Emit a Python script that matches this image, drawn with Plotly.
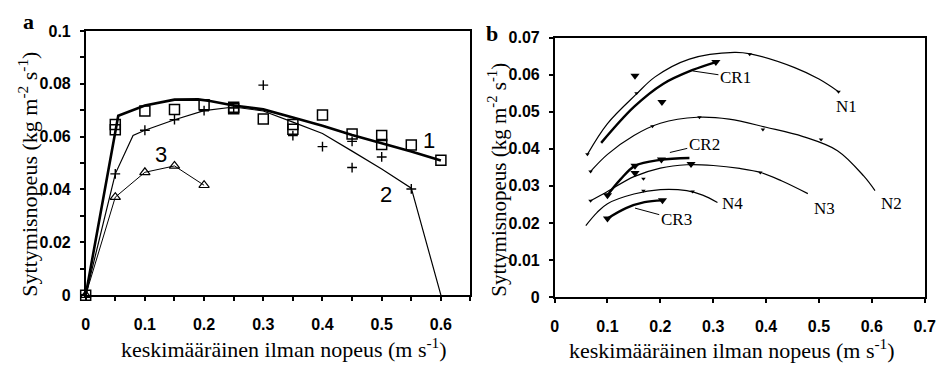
import plotly.graph_objects as go

W, H = 947, 370

# ---------------- Panel a data ----------------
sq_x = [0, 0.05, 0.05, 0.10, 0.15, 0.20, 0.25, 0.25, 0.30, 0.35, 0.35, 0.40, 0.45, 0.50, 0.50, 0.55, 0.60]
sq_y = [0, 0.0646, 0.0626, 0.0697, 0.0703, 0.0721, 0.0711, 0.0705, 0.0667, 0.0646, 0.0628, 0.0682, 0.0610, 0.0604, 0.0570, 0.0568, 0.0511]

fit1_x = [0, 0.055, 0.10, 0.15, 0.19, 0.21, 0.25, 0.30, 0.35, 0.40, 0.45, 0.50, 0.55, 0.60]
fit1_y = [0, 0.0679, 0.0718, 0.0740, 0.0741, 0.0735, 0.0718, 0.0703, 0.0672, 0.0641, 0.0606, 0.0575, 0.0544, 0.0510]

plus_x = [0.05, 0.10, 0.15, 0.20, 0.25, 0.30, 0.35, 0.40, 0.45, 0.45, 0.50, 0.55]
plus_y = [0.0459, 0.0624, 0.0664, 0.0698, 0.0708, 0.0795, 0.0604, 0.0562, 0.0582, 0.0483, 0.0523, 0.0402]

fit2_x = [0, 0.05, 0.08, 0.10, 0.15, 0.20, 0.25, 0.30, 0.35, 0.40, 0.45, 0.50, 0.55, 0.60]
fit2_y = [0, 0.0459, 0.0604, 0.0624, 0.0664, 0.0698, 0.0712, 0.0697, 0.0655, 0.0612, 0.0545, 0.0477, 0.0405, 0.0]

tri_x = [0, 0.05, 0.10, 0.15, 0.20]
tri_y = [0, 0.0371, 0.0465, 0.0489, 0.0416]

a_labels = ["1", "2", "3"]
a_label_x = [0.58, 0.508, 0.127]
a_label_y = [0.0586, 0.0380, 0.0531]

# ---------------- Panel b data ----------------
n1_x = [0.062, 0.10, 0.155, 0.19, 0.255, 0.34, 0.37, 0.454, 0.50, 0.537]
n1_y = [0.0385, 0.0468, 0.0548, 0.0594, 0.0642, 0.0660, 0.0656, 0.0619, 0.0588, 0.0554]
n1_mx = [0.062, 0.155, 0.369, 0.537]
n1_my = [0.0385, 0.0550, 0.0655, 0.0554]

n2_x = [0.068, 0.10, 0.15, 0.20, 0.27, 0.33, 0.40, 0.47, 0.535, 0.585, 0.606]
n2_y = [0.0339, 0.0385, 0.0436, 0.0469, 0.0485, 0.0480, 0.0458, 0.0433, 0.0395, 0.0326, 0.0287]
n2_mx = [0.068, 0.185, 0.274, 0.394, 0.504]
n2_my = [0.0339, 0.0461, 0.0485, 0.0452, 0.0425]

n3_x = [0.068, 0.10, 0.15, 0.20, 0.25, 0.30, 0.35, 0.39, 0.43, 0.479]
n3_y = [0.0260, 0.0285, 0.0325, 0.0348, 0.0357, 0.0355, 0.0347, 0.0336, 0.0313, 0.0279]
n3_mx = [0.068, 0.168, 0.389]
n3_my = [0.0260, 0.0319, 0.0336]

n4_x = [0.059, 0.08, 0.10, 0.15, 0.20, 0.25, 0.28, 0.308]
n4_y = [0.0193, 0.0228, 0.0252, 0.0278, 0.0290, 0.0287, 0.0275, 0.0255]
n4_mx = [0.168, 0.261]
n4_my = [0.0287, 0.0285]

cr1_x = [0.088, 0.15, 0.205, 0.26, 0.305]
cr1_y = [0.0416, 0.0513, 0.0575, 0.0612, 0.0634]
cr1_mx = [0.152, 0.203, 0.305]
cr1_my = [0.0597, 0.0526, 0.0634]

cr2_x = [0.10, 0.125, 0.152, 0.20, 0.255]
cr2_y = [0.0275, 0.0318, 0.0354, 0.0370, 0.0375]
cr2_mx = [0.10, 0.152, 0.152, 0.202, 0.258]
cr2_my = [0.0275, 0.0354, 0.0335, 0.0371, 0.0359]

cr3_x = [0.10, 0.135, 0.17, 0.204]
cr3_y = [0.0212, 0.0240, 0.0256, 0.0261]
cr3_mx = [0.10, 0.204]
cr3_my = [0.0212, 0.0261]

b_labels = ["CR1", "N1", "CR2", "N2", "N3", "N4", "CR3"]
b_label_x = [0.342, 0.553, 0.283, 0.637, 0.51, 0.336, 0.230]
b_label_y = [0.0593, 0.0515, 0.0412, 0.0253, 0.0240, 0.0253, 0.0210]
# leader lines: point on curve (None = no leader)
b_lead_x = [0.261, None, 0.218, None, None, None, 0.152]
b_lead_y = [0.0610, None, 0.0390, None, None, None, 0.0240]

fig = go.Figure()

BLACK = "black"

# Panel a traces
fig.add_trace(go.Scatter(x=fit1_x, y=fit1_y, mode="lines", line=dict(color=BLACK, width=2.6),
                         xaxis="x", yaxis="y", cliponaxis=False, showlegend=False))
fig.add_trace(go.Scatter(x=fit2_x, y=fit2_y, mode="lines", line=dict(color=BLACK, width=1.2),
                         xaxis="x", yaxis="y", cliponaxis=False, showlegend=False))
fig.add_trace(go.Scatter(x=tri_x, y=tri_y, mode="lines+markers", line=dict(color=BLACK, width=1),
                         marker=dict(symbol="triangle-up-open", size=9, color=BLACK, line=dict(width=1.2)),
                         xaxis="x", yaxis="y", cliponaxis=False, showlegend=False))
fig.add_trace(go.Scatter(x=sq_x, y=sq_y, mode="markers",
                         marker=dict(symbol="square-open", size=10, color=BLACK, line=dict(width=1.5)),
                         xaxis="x", yaxis="y", cliponaxis=False, showlegend=False))
fig.add_trace(go.Scatter(x=plus_x, y=plus_y, mode="markers",
                         marker=dict(symbol="cross-thin-open", size=7, color=BLACK, line=dict(width=1.4, color=BLACK)),
                         xaxis="x", yaxis="y", cliponaxis=False, showlegend=False))

# Panel b traces
for cx, cy, mx, my in [(n1_x, n1_y, n1_mx, n1_my), (n2_x, n2_y, n2_mx, n2_my),
                       (n3_x, n3_y, n3_mx, n3_my), (n4_x, n4_y, n4_mx, n4_my)]:
    fig.add_trace(go.Scatter(x=cx, y=cy, mode="lines", line=dict(color=BLACK, width=1.2, shape="spline", smoothing=1.0),
                             xaxis="x2", yaxis="y2", showlegend=False))
    fig.add_trace(go.Scatter(x=mx, y=my, mode="markers", marker=dict(symbol="triangle-down", size=4, color=BLACK),
                             xaxis="x2", yaxis="y2", showlegend=False))

for cx, cy, mx, my in [(cr1_x, cr1_y, cr1_mx, cr1_my), (cr2_x, cr2_y, cr2_mx, cr2_my),
                       (cr3_x, cr3_y, cr3_mx, cr3_my)]:
    fig.add_trace(go.Scatter(x=cx, y=cy, mode="lines", line=dict(color=BLACK, width=2.4, shape="spline", smoothing=1.0),
                             xaxis="x2", yaxis="y2", showlegend=False))
    fig.add_trace(go.Scatter(x=mx, y=my, mode="markers", marker=dict(symbol="triangle-down", size=8, color=BLACK),
                             xaxis="x2", yaxis="y2", showlegend=False))

SERIF = "Liberation Serif, Times New Roman, serif"
SANS = "Liberation Sans, Arial, sans-serif"

annotations = []
for t, x, y in zip(a_labels, a_label_x, a_label_y):
    annotations.append(dict(text=t, x=x, y=y, xref="x", yref="y", showarrow=False,
                            xanchor="center", yanchor="middle",
                            font=dict(family=SANS, size=22, color=BLACK)))
for t, x, y, lx, ly in zip(b_labels, b_label_x, b_label_y, b_lead_x, b_lead_y):
    if lx is None:
        annotations.append(dict(text=t, x=x, y=y, xref="x2", yref="y2", showarrow=False,
                                xanchor="center", yanchor="middle",
                                font=dict(family=SERIF, size=17, color=BLACK)))
    else:
        annotations.append(dict(text=t, x=lx, y=ly, ax=x, ay=y, xref="x2", yref="y2",
                                axref="x2", ayref="y2", showarrow=True, arrowhead=0,
                                xanchor="center", yanchor="middle",
                                arrowwidth=1, arrowcolor=BLACK, standoff=0,
                                font=dict(family=SERIF, size=17, color=BLACK)))

def px(xp):
    return xp / W

def py(yp):
    return 1 - yp / H

ytitle = "Syttymisnopeus (kg m<sup>-2</sup> s<sup>-1</sup>)"
xtitle = "keskimääräinen ilman nopeus (m s<sup>-1</sup>)"

def paper_text(text, x, y, size, angle=0, bold=False):
    f = dict(family=SERIF, size=size, color=BLACK)
    if bold:
        f["weight"] = "bold"
    return dict(text=text, x=px(x), y=py(y), xref="paper", yref="paper", showarrow=False,
                xanchor="center", yanchor="middle", textangle=angle, font=f)

annotations += [
    paper_text("a", 25, 14, 22, bold=True),
    paper_text("b", 496, 27, 22, bold=True),
    paper_text(ytitle, 24, 174, 22, angle=-90),
    paper_text(ytitle, 502, 180, 21, angle=-90),
    paper_text(xtitle, 284, 356, 22),
    paper_text(xtitle, 740, 357, 22),
]

axis_common = dict(showline=True, linecolor=BLACK, linewidth=1.5, mirror=True, showgrid=False,
                   zeroline=False, ticks="outside", ticklen=4, tickwidth=1.5, tickcolor=BLACK,
                   tickfont=dict(family=SANS, size=16, color=BLACK, weight="bold"))

fig.update_layout(
    width=W, height=H, margin=dict(l=0, r=0, t=0, b=0),
    paper_bgcolor="white", plot_bgcolor="white",
    xaxis=dict(domain=[px(83), px(474)], range=[0, 0.65], dtick=0.1, tick0=0, anchor="y",
               minor=dict(dtick=0.05, ticks="outside", ticklen=4, tickwidth=1.5, tickcolor=BLACK),
               ticklabelstandoff=10, **axis_common),
    yaxis=dict(domain=[py(301), py(24)], range=[0, 0.1], dtick=0.02, tick0=0, anchor="x",
               minor=dict(dtick=0.01, ticks="outside", ticklen=4, tickwidth=1.5, tickcolor=BLACK),
               ticklabelstandoff=6, **axis_common),
    xaxis2=dict(domain=[px(559.5), px(935.5)], range=[0, 0.7], dtick=0.1, tick0=0, anchor="y2",
                ticklabelstandoff=10, **axis_common),
    yaxis2=dict(domain=[py(303), py(31)], range=[0, 0.07], dtick=0.01, tick0=0, anchor="x2",
                ticklabelstandoff=6, **axis_common),
    annotations=annotations,
)

fig.write_html("out.html")
